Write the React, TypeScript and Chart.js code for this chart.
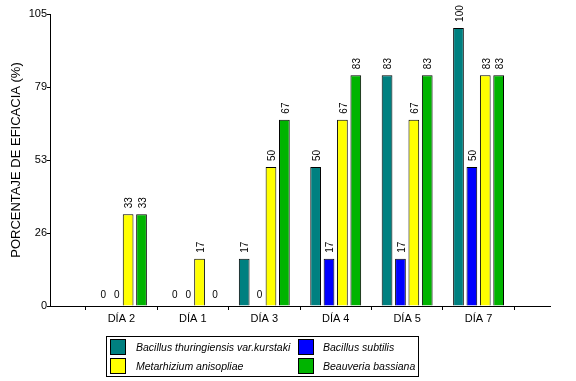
import React, { useEffect, useRef } from 'react';
import { Chart, registerables } from 'chart.js';

Chart.register(...registerables);

const categories = ['', 'DÍA 2', 'DÍA 1', 'DÍA 3', 'DÍA 4', 'DÍA 5', 'DÍA 7', ''];
const seriesNames = [
  'Bacillus thuringiensis var.kurstaki',
  'Bacillus subtilis',
  'Metarhizium anisopliae',
  'Beauveria bassiana',
];
const btkValues = [null, 0, 0, 17, 50, 83, 100, null];
const subtilisValues = [null, 0, 0, 0, 17, 17, 50, null];
const metarhiziumValues = [null, 33, 17, 50, 67, 67, 83, null];
const beauveriaValues = [null, 33, 0, 67, 83, 83, 83, null];
const seriesColors = ['#008080', '#0000FF', '#FFFF00', '#00B400'];
const yTickValues = [0, 26.25, 52.5, 78.75, 105];
const yTitle = 'PORCENTAJE DE EFICACIA (%)';

const FONT = '"Liberation Sans", Arial, sans-serif';

const labelPlugin = {
  id: 'barLabels',
  afterDatasetsDraw(chart: any) {
    const ctx = chart.ctx;
    chart.data.datasets.forEach((ds: any, di: number) => {
      const meta = chart.getDatasetMeta(di);
      meta.data.forEach((bar: any, i: number) => {
        const v = ds.data[i];
        if (v === null || v === undefined) return;
        const text = String(v);
        ctx.save();
        ctx.font = `10px ${FONT}`;
        if (v === 0) {
          ctx.fillStyle = '#000';
          ctx.textAlign = 'center';
          ctx.textBaseline = 'bottom';
          ctx.fillText(text, bar.x + 2, bar.y - 6);
        } else {
          const w = ctx.measureText(text).width;
          ctx.translate(bar.x + 1, bar.y - 6);
          ctx.rotate(-Math.PI / 2);
          ctx.fillStyle = '#fff';
          ctx.fillRect(-1, -5, w + 2, 10);
          ctx.fillStyle = '#000';
          ctx.textAlign = 'left';
          ctx.textBaseline = 'middle';
          ctx.fillText(text, 0, 0.5);
        }
        ctx.restore();
      });
    });
  },
};

export default function App() {
  const canvasRef = useRef<HTMLCanvasElement | null>(null);

  useEffect(() => {
    if (!canvasRef.current) return;
    const allValues = [btkValues, subtilisValues, metarhiziumValues, beauveriaValues];
    const chart = new Chart(canvasRef.current, {
      type: 'bar',
      data: {
        labels: categories,
        datasets: allValues.map((vals, k) => ({
          label: seriesNames[k],
          data: vals as any,
          backgroundColor: seriesColors[k],
          borderColor: '#000',
          borderWidth: 1,
          categoryPercentage: 0.75,
          barPercentage: 0.8,
        })),
      },
      options: {
        responsive: false,
        animation: false,
        devicePixelRatio: 1,
        layout: { padding: { top: 14, right: 26, bottom: 0, left: 0 } },
        plugins: {
          legend: { display: false },
          tooltip: { enabled: false },
        },
        scales: {
          x: {
            type: 'category',
            offset: false,
            grid: {
              display: true,
              drawOnChartArea: false,
              drawTicks: true,
              tickLength: 4,
              color: '#000',
            },
            border: { color: '#000', width: 1 },
            ticks: {
              color: '#000',
              font: { size: 11, family: FONT },
              padding: 2,
              maxRotation: 0,
              autoSkip: false,
            },
            afterFit(scale: any) {
              scale.height = 75;
            },
          },
          y: {
            min: 0,
            max: 105,
            grid: {
              display: true,
              drawOnChartArea: false,
              drawTicks: true,
              tickLength: 3,
              color: '#000',
            },
            border: { color: '#000', width: 1 },
            ticks: {
              color: '#000',
              font: { size: 11, family: FONT },
              padding: 0,
              callback: (v: any) => String(Math.round(Number(v))),
            },
            afterBuildTicks(scale: any) {
              scale.ticks = yTickValues.map((v) => ({ value: v }));
            },
            afterFit(scale: any) {
              scale.width = 50;
            },
            title: {
              display: true,
              text: yTitle,
              color: '#000',
              font: { size: 13, family: FONT },
              padding: { top: 9, bottom: 0 },
            },
          },
        },
      },
      plugins: [labelPlugin],
    } as any);
    return () => chart.destroy();
  }, []);

  const legendItems = [
    { name: seriesNames[0], color: seriesColors[0], left: 110, top: 339, textLeft: 136 },
    { name: seriesNames[1], color: seriesColors[1], left: 298, top: 339, textLeft: 323 },
    { name: seriesNames[2], color: seriesColors[2], left: 110, top: 358, textLeft: 136 },
    { name: seriesNames[3], color: seriesColors[3], left: 298, top: 358, textLeft: 323 },
  ];

  return (
    <div
      style={{
        position: 'fixed',
        left: 0,
        top: 0,
        width: 576,
        height: 381,
        background: '#fff',
        overflow: 'hidden',
      }}
    >
      <canvas ref={canvasRef} width={576} height={381} style={{ width: 576, height: 381, display: 'block' }} />
      <div
        style={{
          position: 'absolute',
          left: 106,
          top: 336,
          width: 313,
          height: 41,
          border: '1px solid #000',
          boxSizing: 'border-box',
        }}
      />
      {legendItems.map((it) => (
        <React.Fragment key={it.name}>
          <div
            style={{
              position: 'absolute',
              left: it.left,
              top: it.top,
              width: 16,
              height: 16,
              boxSizing: 'border-box',
              border: '1px solid #000',
              background: it.color,
            }}
          />
          <div
            style={{
              position: 'absolute',
              left: it.textLeft,
              top: it.top,
              height: 16,
              lineHeight: '16px',
              fontFamily: FONT,
              fontStyle: 'italic',
              fontSize: 10.5,
              color: '#000',
              whiteSpace: 'nowrap',
            }}
          >
            {it.name}
          </div>
        </React.Fragment>
      ))}
    </div>
  );
}
